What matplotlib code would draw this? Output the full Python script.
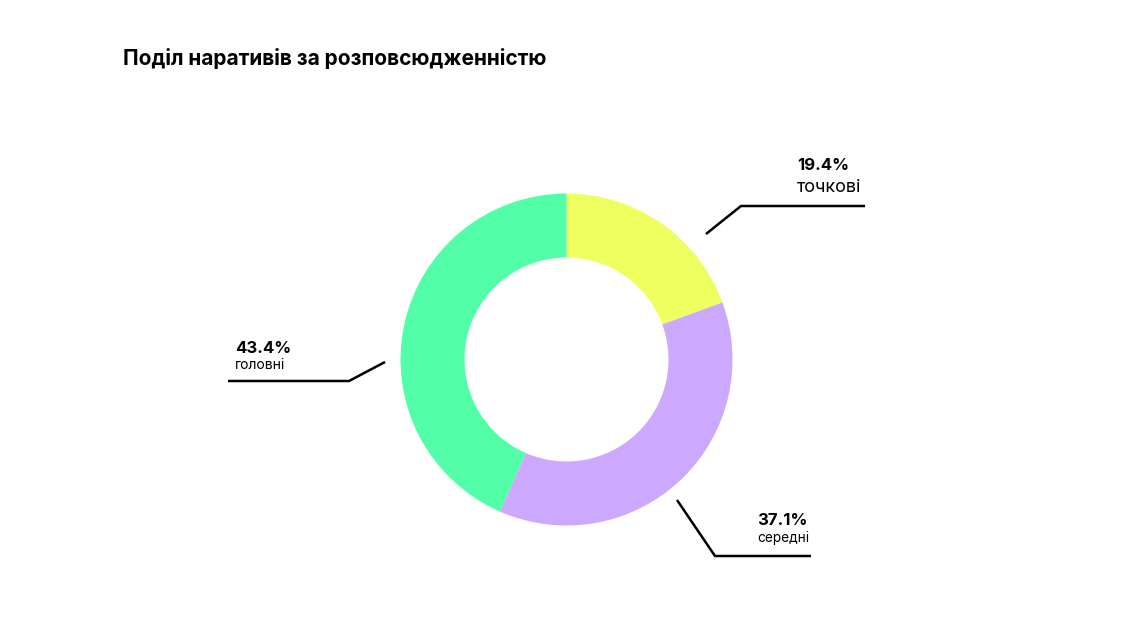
import matplotlib
matplotlib.use("Agg")
import matplotlib.pyplot as plt

plt.rcParams['font.family'] = ['Inter', 'DejaVu Sans']

title = "Поділ наративів за розповсюдженністю"
labels = ["точкові", "середні", "головні"]
shares = [19.4, 37.1, 43.4]
colors = ["#f0ff60", "#cca8ff", "#52ffa8"]

W, H = 1132, 620
fig = plt.figure(figsize=(W / 100, H / 100), dpi=100)
ax = fig.add_axes([0, 0, 1, 1])

# pixel-like coordinates, y measured from the bottom
cx, cy = 566.5, H - 359.5
R = 166
ax.pie(shares, colors=colors, startangle=90, counterclock=False,
       radius=R, center=(cx, cy), wedgeprops=dict(width=64, linewidth=0))
ax.set_xlim(0, W)
ax.set_ylim(0, H)
ax.set_aspect("equal")
ax.axis("off")

def py(y):
    return H - y

# leader lines
ax.plot([706, 741, 865], [py(234), py(206), py(206)], color="black", lw=1.8, solid_capstyle="butt")
ax.plot([385, 349, 228], [py(362), py(381), py(381)], color="black", lw=1.8, solid_capstyle="butt")
ax.plot([677, 715, 811], [py(500), py(556), py(556)], color="black", lw=1.8, solid_capstyle="butt")

ax.text(797, py(170), f"{shares[0]}%", fontsize=12, fontweight="bold", ha="left", va="baseline")
ax.text(797, py(192), labels[0], fontsize=13, ha="left", va="baseline")
ax.text(235, py(353), f"{shares[2]}%", fontsize=12, fontweight="bold", ha="left", va="baseline")
ax.text(235, py(369), labels[2], fontsize=10, ha="left", va="baseline")
ax.text(757, py(525), f"{shares[1]}%", fontsize=12, fontweight="bold", ha="left", va="baseline")
ax.text(757, py(542), labels[1], fontsize=9.8, ha="left", va="baseline")

ax.text(123, py(65), title, fontsize=15, fontweight="bold", ha="left", va="baseline")

fig.savefig("out.png", dpi=100, facecolor="white")
